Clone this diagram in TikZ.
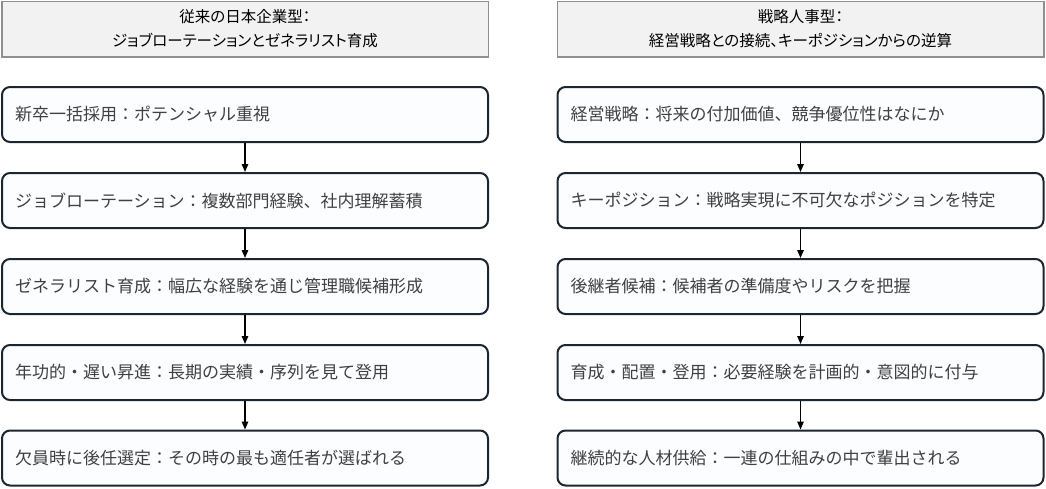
\documentclass[tikz,border=0pt]{standalone}
\usepackage{fontspec}
\usepackage{tikz}
\usetikzlibrary{arrows.meta}
\usetikzlibrary{calc}
\newfontfamily\jpfont{Noto Sans CJK JP}
\newfontfamily\jphead[RawFeature=+palt]{Noto Sans CJK JP}
\definecolor{boxline}{HTML}{1C2631}
\definecolor{boxfill}{HTML}{FBFDFE}
\definecolor{headfill}{HTML}{F2F2F2}
\definecolor{headline}{HTML}{8F8F8F}
\definecolor{boxtext}{HTML}{404040}
\tikzset{
  head/.style={draw=headline, fill=headfill, line width=1.5pt, minimum width=486.5pt,
    minimum height=55.5pt, align=center, inner sep=0pt, text=black,
    font=\jphead\fontsize{15.5}{24}\selectfont},
  stage/.style={draw=boxline, fill=boxfill, line width=2pt, rounded corners=8pt,
    minimum width=486pt, minimum height=55pt, text width=460pt, inner xsep=13pt,
    align=left, text=boxtext, font=\jpfont\fontsize{17}{20}\selectfont},
  flow/.style={-{Triangle[length=8pt,width=6.5pt]}, line width=1.4pt, black}
}
\begin{document}
\begin{tikzpicture}[x=1pt,y=-1pt]
\useasboundingbox (0,0) rectangle (1046,488);
% The left column
\node[head] (lh) at (245,29) {従来の日本企業型：\\ジョブローテーションとゼネラリスト育成};
%     the stages
\node[stage] (l1) at (245,114.5) {新卒一括採用：ポテンシャル重視};
\node[stage] (l2) at (245,200.5) {ジョブローテーション：複数部門経験、社内理解蓄積};
\node[stage] (l3) at (245,286.5) {ゼネラリスト育成：幅広な経験を通じ管理職候補形成};
\node[stage] (l4) at (245,372.5) {年功的・遅い昇進：長期の実績・序列を見て登用};
\node[stage] (l5) at (245,458) {欠員時に後任選定：その時の最も適任者が選ばれる};
%     the arrows
\draw[flow] (l1) -- (l2);
\draw[flow] (l2) -- (l3);
\draw[flow] (l3) -- (l4);
\draw[flow] (l4) -- (l5);
% The right column
\node[head] (rh) at (800.5,29) {戦略人事型：\\経営戦略との接続、キーポジションからの逆算};
%     the stages
\node[stage] (r1) at (800.5,114.5) {経営戦略：将来の付加価値、競争優位性はなにか};
\node[stage] (r2) at (800.5,200.5) {キーポジション：戦略実現に不可欠なポジションを特定};
\node[stage] (r3) at (800.5,286.5) {後継者候補：候補者の準備度やリスクを把握};
\node[stage] (r4) at (800.5,372.5) {育成・配置・登用：必要経験を計画的・意図的に付与};
\node[stage] (r5) at (800.5,458) {継続的な人材供給：一連の仕組みの中で輩出される};
%     the arrows
\draw[flow] (r1) -- (r2);
\draw[flow] (r2) -- (r3);
\draw[flow] (r3) -- (r4);
\draw[flow] (r4) -- (r5);
\end{tikzpicture}
\end{document}
